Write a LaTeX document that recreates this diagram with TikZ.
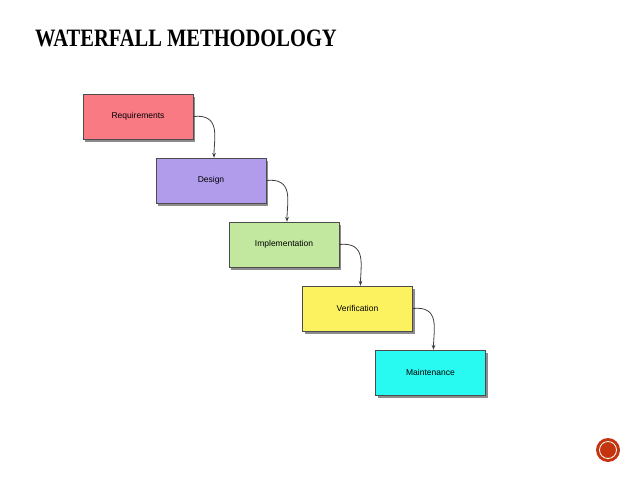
\documentclass[tikz,border=0pt]{standalone}
\usepackage{fontspec}
\setmainfont{Liberation Sans}
\newfontfamily\titlefont{Liberation Serif}
\usetikzlibrary{arrows.meta}
\definecolor{reqcol}{RGB}{250,122,132}
\definecolor{descol}{RGB}{177,156,236}
\definecolor{implcol}{RGB}{194,232,160}
\definecolor{vercol}{RGB}{252,242,96}
\definecolor{maintcol}{RGB}{40,250,242}
\definecolor{dotred}{RGB}{196,52,14}
\begin{document}
\begin{tikzpicture}[x=1pt,y=-1pt]
\tikzset{
  phase/.style={draw=black!70,fill=#1,minimum width=110pt,minimum height=45pt,
    inner sep=0pt,font=\fontsize{8.5}{10}\selectfont,
    preaction={fill=black!45,transform canvas={xshift=2pt,yshift=-2.5pt}}},
  flow/.style={draw=black!75,thick,-{Stealth[length=5pt]}},
}
\useasboundingbox (0,0) rectangle (638,479);
\node[anchor=west,font=\titlefont\bfseries\fontsize{25}{28}\selectfont,inner sep=0pt,
  xscale=0.82] (title) at (35,38) {WATERFALL METHODOLOGY};
\path (138,116.5) node[phase=reqcol] (req) {Requirements}
      (211,180.5) node[phase=descol] (des) {Design}
      (284,244.5) node[phase=implcol] (impl) {Implementation}
      (357.5,308.5) node[phase=vercol] (ver) {Verification}
      (430.5,372.5) node[phase=maintcol] (maint) {Maintenance};
\draw[flow] (req.east) .. controls +(28,-3) and +(0,-20) .. ([xshift=3pt]des.north);
\draw[flow] (des.east) .. controls +(28,-3) and +(0,-20) .. ([xshift=3pt]impl.north);
\draw[flow] (impl.east) .. controls +(28,-3) and +(0,-20) .. ([xshift=3pt]ver.north);
\draw[flow] (ver.east) .. controls +(28,-3) and +(0,-20) .. ([xshift=3pt]maint.north);
\node[circle,fill=dotred,minimum size=24pt,inner sep=0pt] (dot) at (608,450) {};
\draw[white,line width=0.8pt] (dot.center) circle (8.5pt);
\end{tikzpicture}
\end{document}
